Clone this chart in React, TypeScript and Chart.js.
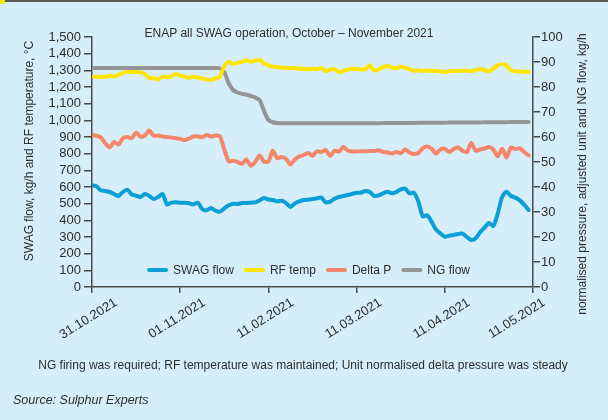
import React, { useEffect, useRef } from 'react';
import { Chart, registerables } from 'chart.js';

Chart.register(...registerables);

// ---------- data ----------
const TITLE = 'ENAP all SWAG operation, October – November 2021';
const CAPTION = 'NG firing was required; RF temperature was maintained; Unit normalised delta pressure was steady';
const SOURCE = 'Source: Sulphur Experts';
const LEFT_AXIS_TITLE = 'SWAG flow, kg/h and RF temperature, °C';
const RIGHT_AXIS_TITLE = 'normalised pressure, adjusted unit and NG flow, kg/h';

const DATE_TICKS = ['31.10.2021', '01.11.2021', '11.02.2021', '11.03.2021', '11.04.2021', '11.05.2021'];
const SAMPLES_PER_TICK = 20;
const SERIES_NAMES = ['SWAG flow', 'RF temp', 'Delta P', 'NG flow'];

const SWAG_FLOW = [
  610, 604, 580, 576, 570, 558, 546, 570, 584, 556,
  548, 540, 558, 546, 528, 540, 558, 495, 506, 508,
  506, 506, 502, 496, 506, 468, 460, 474, 458, 452,
  472, 490, 500, 498, 504, 504, 506, 508, 520, 534,
  525, 522, 514, 518, 504, 480, 502, 514, 522, 524,
  528, 532, 536, 508, 512, 530, 540, 546, 552, 558,
  566, 566, 576, 570, 546, 550, 562, 572, 562, 570,
  586, 590, 562, 566, 512, 424, 430, 392, 344, 322,
  302, 308, 312, 318, 320, 300, 282, 292, 328, 356,
  384, 366, 440, 540, 572, 546, 536, 520, 494, 462,
];

const RF_TEMP = [
  1262, 1262, 1260, 1262, 1266, 1262, 1272, 1285, 1290, 1290,
  1290, 1288, 1278, 1254, 1252, 1246, 1262, 1258, 1264, 1278,
  1268, 1262, 1256, 1262, 1258, 1250, 1246, 1242, 1250, 1262,
  1325, 1350, 1338, 1345, 1350, 1360, 1352, 1358, 1362, 1342,
  1330, 1322, 1318, 1316, 1315, 1314, 1312, 1310, 1308, 1306,
  1310, 1306, 1314, 1296, 1304, 1308, 1288, 1296, 1306, 1308,
  1308, 1306, 1306, 1330, 1300, 1306, 1318, 1328, 1316, 1312,
  1322, 1316, 1306, 1298, 1300, 1296, 1300, 1296, 1296, 1294,
  1292, 1294, 1296, 1296, 1298, 1298, 1295, 1302, 1308, 1302,
  1294, 1310, 1330, 1336, 1330, 1300, 1294, 1292, 1292, 1290,
];

const DELTA_P = [
  60.8, 60.5, 59.8, 57.5, 55.8, 58.0, 57.0, 59.5, 60.0, 59.6,
  61.7, 60.2, 60.6, 62.6, 60.5, 60.6, 60.2, 60.0, 59.8, 59.5,
  59.3, 58.8, 59.4, 60.2, 60.3, 59.9, 60.8, 60.2, 60.6, 60.3,
  55.0, 50.3, 50.5, 50.0, 49.3, 51.0, 48.5, 50.0, 52.6, 50.1,
  50.2, 54.5, 51.5, 52.0, 51.3, 49.0, 51.0, 52.2, 52.8, 53.6,
  52.5, 54.3, 54.0, 54.8, 52.5, 54.5, 54.2, 56.0, 54.6, 54.2,
  54.2, 54.3, 54.3, 54.4, 54.4, 54.7, 54.0, 53.8, 53.4, 54.0,
  53.5, 55.0, 53.8, 53.2, 53.6, 55.5, 56.2, 55.3, 53.3, 55.0,
  55.3, 54.0, 55.2, 55.8, 54.5, 54.0, 57.6, 54.5, 55.0, 55.4,
  56.0, 55.0, 52.3, 55.3, 51.8, 55.8, 55.2, 55.5, 54.0, 52.6,
];

const NG_FLOW = [
  87.6, 87.6, 87.6, 87.6, 87.6, 87.6, 87.6, 87.6, 87.6, 87.6,
  87.6, 87.6, 87.6, 87.6, 87.6, 87.6, 87.6, 87.6, 87.6, 87.6,
  87.6, 87.6, 87.6, 87.6, 87.6, 87.6, 87.6, 87.6, 87.6, 87.5,
  86.0, 81.5, 78.8, 77.8, 77.3, 76.9, 76.4, 75.8, 74.8, 70.5,
  66.8, 65.9, 65.6, 65.5, 65.5, 65.5, 65.5, 65.5, 65.5, 65.5,
  65.5, 65.5, 65.5, 65.5, 65.5, 65.5, 65.5, 65.5, 65.5, 65.5,
  65.5, 65.5, 65.5, 65.5, 65.5, 65.5, 65.6, 65.6, 65.6, 65.6,
  65.6, 65.6, 65.6, 65.6, 65.7, 65.7, 65.7, 65.7, 65.7, 65.7,
  65.7, 65.8, 65.8, 65.8, 65.8, 65.8, 65.8, 65.8, 65.8, 65.9,
  65.9, 65.9, 65.9, 65.9, 65.9, 66.0, 66.0, 66.0, 66.0, 66.0,
];

// ---------- styles ----------
const BG = '#d5eefa';
const TEXT = '#2e2e2e';
const AXIS = '#4a4a4a';
const BLUE = '#0a9fd6';
const YELLOW = '#ffe500';
const ORANGE = '#f5866a';
const GRAY = '#939598';
const FONT_FAMILY = '"Liberation Sans", Arial, Helvetica, sans-serif';

const insideLegend = {
  id: 'insideLegend',
  afterDatasetsDraw(chart: any) {
    const { ctx, chartArea } = chart;
    ctx.save();
    ctx.font = `12px ${FONT_FAMILY}`;
    const sampleW = 21;
    const gapAfterSample = 5;
    const gapItems = 10;
    const items = chart.data.datasets.map((ds: any) => ({
      text: ds.label,
      color: ds.borderColor,
      w: ctx.measureText(ds.label).width,
    }));
    const total =
      items.reduce((s: number, it: any) => s + sampleW + gapAfterSample + it.w, 0) +
      gapItems * (items.length - 1);
    let x = (chartArea.left + chartArea.right) / 2 - total / 2 - 4;
    const y = chartArea.bottom - 17;
    for (const it of items) {
      ctx.strokeStyle = it.color;
      ctx.lineWidth = 4;
      ctx.lineCap = 'round';
      ctx.beginPath();
      ctx.moveTo(x + 2, y);
      ctx.lineTo(x + sampleW - 2, y);
      ctx.stroke();
      x += sampleW + gapAfterSample;
      ctx.fillStyle = TEXT;
      ctx.textBaseline = 'middle';
      ctx.textAlign = 'left';
      ctx.fillText(it.text, x, y + 1);
      x += it.w + gapItems;
    }
    ctx.restore();
  },
};

const axisTitles = {
  id: 'axisTitles',
  afterDraw(chart: any) {
    const { ctx } = chart;
    const draw = (text: string, x: number, y: number) => {
      ctx.save();
      ctx.font = `12px ${FONT_FAMILY}`;
      ctx.fillStyle = TEXT;
      ctx.textAlign = 'center';
      ctx.textBaseline = 'middle';
      ctx.translate(x, y);
      ctx.rotate(-Math.PI / 2);
      ctx.fillText(text, 0, 0);
      ctx.restore();
    };
    draw(LEFT_AXIS_TITLE, 30, 151);
    draw(RIGHT_AXIS_TITLE, 583, 174);
  },
};

// pull the last date label back inside, as in the original
const lastLabelNudge = {
  id: 'lastLabelNudge',
  beforeDraw(chart: any) {
    const scale = chart.scales.x;
    if (!scale || !scale.getLabelItems) return;
    const items = scale.getLabelItems(chart.chartArea);
    const last = items && items[items.length - 1];
    if (last && last.options && last.options.translation && !last.__nudged) {
      last.options.translation[0] -= 13;
      last.__nudged = true;
    }
  },
};

export default function App() {
  const ref = useRef<HTMLCanvasElement>(null);

  useEffect(() => {
    const canvas = ref.current;
    if (!canvas) return;
    const toPts = (arr: number[]) => arr.map((y, i) => ({ x: i / SAMPLES_PER_TICK, y }));
    const line = {
      borderWidth: 4,
      pointRadius: 0,
      tension: 0.25,
      borderCapStyle: 'round' as const,
      borderJoinStyle: 'round' as const,
      fill: false,
    };
    const tickFont = { family: FONT_FAMILY, size: 13 };
    const chart = new Chart(canvas, {
      type: 'line',
      data: {
        datasets: [
          { label: SERIES_NAMES[0], data: toPts(SWAG_FLOW), yAxisID: 'yLeft', borderColor: BLUE, backgroundColor: BLUE, ...line },
          { label: SERIES_NAMES[1], data: toPts(RF_TEMP), yAxisID: 'yLeft', borderColor: YELLOW, backgroundColor: YELLOW, ...line },
          { label: SERIES_NAMES[2], data: toPts(DELTA_P), yAxisID: 'yRight', borderColor: ORANGE, backgroundColor: ORANGE, ...line },
          { label: SERIES_NAMES[3], data: toPts(NG_FLOW), yAxisID: 'yRight', borderColor: GRAY, backgroundColor: GRAY, ...line },
        ],
      },
      options: {
        responsive: false,
        animation: false,
        devicePixelRatio: 1,
        layout: { padding: { top: 37, left: 0, right: 0, bottom: 0 } },
        plugins: { legend: { display: false }, tooltip: { enabled: false } },
        scales: {
          x: {
            type: 'linear',
            min: 0,
            max: DATE_TICKS.length - 1,
            afterFit: (s: any) => { s.height = 133; },
            ticks: {
              stepSize: 1,
              autoSkip: false,
              minRotation: 32,
              maxRotation: 32,
              labelOffset: 24,
              padding: 2,
              color: TEXT,
              font: tickFont,
              callback: (_v: any, i: number) => DATE_TICKS[i],
            },
            grid: { drawOnChartArea: false, tickLength: 6, color: AXIS, lineWidth: 1.5 },
            border: { color: AXIS, width: 1.5 },
          },
          yLeft: {
            type: 'linear',
            position: 'left',
            min: 0,
            max: 1500,
            afterFit: (s: any) => { s.width = 92; },
            ticks: {
              stepSize: 100,
              autoSkip: false,
              padding: 3,
              color: TEXT,
              font: tickFont,
              callback: (v: any) => Number(v).toLocaleString('en-US'),
            },
            grid: { drawOnChartArea: false, tickLength: 8, color: AXIS, lineWidth: 1.5 },
            border: { color: AXIS, width: 1.5 },
          },
          yRight: {
            type: 'linear',
            position: 'right',
            min: 0,
            max: 100,
            afterFit: (s: any) => { s.width = 75; },
            ticks: { stepSize: 10, autoSkip: false, padding: 1, color: TEXT, font: tickFont },
            grid: { drawOnChartArea: false, tickLength: 7, color: AXIS, lineWidth: 1.5 },
            border: { color: AXIS, width: 1.5 },
          },
        },
      },
      plugins: [lastLabelNudge, insideLegend, axisTitles],
    } as any);
    return () => chart.destroy();
  }, []);

  return (
    <div
      style={{
        position: 'fixed',
        left: 0,
        top: 0,
        width: 608,
        height: 420,
        background: BG,
        fontFamily: FONT_FAMILY,
        color: TEXT,
        overflow: 'hidden',
      }}
    >
      <div style={{ position: 'absolute', left: 0, top: 0, width: 608, height: 2, background: '#5a5a5a' }} />
      <div style={{ position: 'absolute', left: 0, top: 0, width: 5, height: 4, background: YELLOW }} />
      <canvas ref={ref} width={608} height={420} style={{ position: 'absolute', left: 0, top: 0, width: 608, height: 420 }} />
      <div style={{ position: 'absolute', left: 289, top: 25, transform: 'translateX(-50%)', whiteSpace: 'nowrap', fontSize: 12, lineHeight: '16px' }}>
        {TITLE}
      </div>
      <div style={{ position: 'absolute', left: 303, top: 357, transform: 'translateX(-50%)', whiteSpace: 'nowrap', fontSize: 12, lineHeight: '16px' }}>
        {CAPTION}
      </div>
      <div style={{ position: 'absolute', left: 13, top: 392, whiteSpace: 'nowrap', fontSize: 12.5, lineHeight: '16px', fontStyle: 'italic' }}>
        {SOURCE}
      </div>
    </div>
  );
}
